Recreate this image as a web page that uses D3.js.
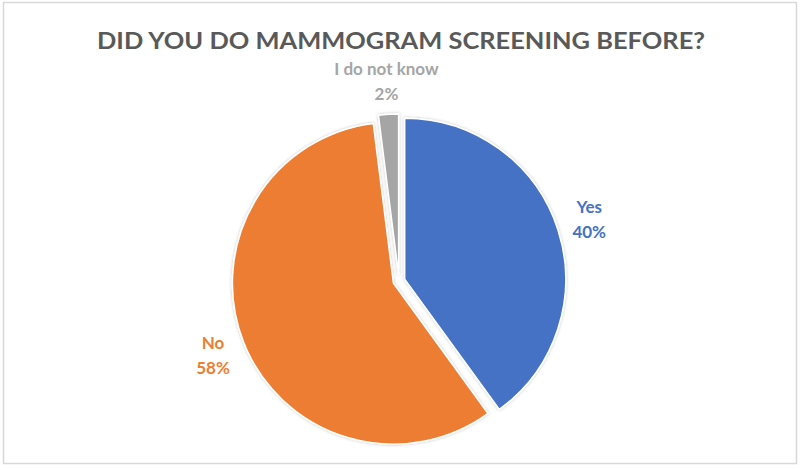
<!DOCTYPE html>
<html><head><meta charset="utf-8">
<script src="https://cdn.jsdelivr.net/npm/d3@7/dist/d3.min.js"></script>
<style>body{margin:0;background:#fff}svg{display:block}text{font-family:Lato,"Open Sans",sans-serif;font-weight:bold}</style>
</head><body>
<svg id="c" width="800" height="469"></svg>
<script>
const categories = ["Yes", "No", "I do not know"];
const values = [40, 58, 2];
const colors = ["#4472C4", "#ED7D31", "#A5A5A5"];
const title = "DID YOU DO MAMMOGRAM SCREENING BEFORE?";

const svg = d3.select("#c");
svg.append("rect").attr("x", 3.5).attr("y", 2.5).attr("width", 793).attr("height", 461)
  .attr("fill", "#fff").attr("stroke", "#d9d9d9").attr("stroke-width", 1.5);

const defs = svg.append("defs");
const f = defs.append("filter").attr("id", "sh").attr("x", "-20%").attr("y", "-20%").attr("width", "140%").attr("height", "140%");
f.append("feDropShadow").attr("dx", 0).attr("dy", 0).attr("stdDeviation", 1.5).attr("flood-color", "#000").attr("flood-opacity", 0.25);

const t = svg.append("text").attr("x", 401).attr("y", 49).attr("text-anchor", "middle")
  .attr("fill", "#595959").attr("font-size", 23).text(title);
const tw = t.node().getComputedTextLength();
if (Math.abs(tw - 608) > 3) t.attr("textLength", 608).attr("lengthAdjust", "spacingAndGlyphs");

const cx = 399, cy = 281, r = 161, explode = 6, labelR = 200;
const pie = d3.pie().sort(null).value(d => d)(values);
const arc = d3.arc().innerRadius(0).outerRadius(r);
const labelArc = d3.arc().innerRadius(labelR).outerRadius(labelR);

const g = svg.append("g").attr("transform", `translate(${cx},${cy})`);
pie.forEach((p, i) => {
  const mid = (p.startAngle + p.endAngle) / 2;
  const ox = Math.sin(mid) * explode, oy = -Math.cos(mid) * explode;
  g.append("path").attr("d", arc(p)).attr("transform", `translate(${ox},${oy})`)
    .attr("fill", colors[i]).attr("stroke", "#fff").attr("stroke-width", 1.5)
    .attr("filter", "url(#sh)");
  const [lx, ly] = labelArc.centroid(p);
  const tx = g.append("text").attr("text-anchor", "middle").attr("fill", colors[i])
    .attr("font-size", 17).attr("transform", `translate(${lx},${ly})`);
  tx.append("tspan").attr("x", 0).attr("y", -6).text(categories[i]);
  tx.append("tspan").attr("x", 0).attr("y", 19).text(values[i] + "%");
});
</script>
</body></html>
